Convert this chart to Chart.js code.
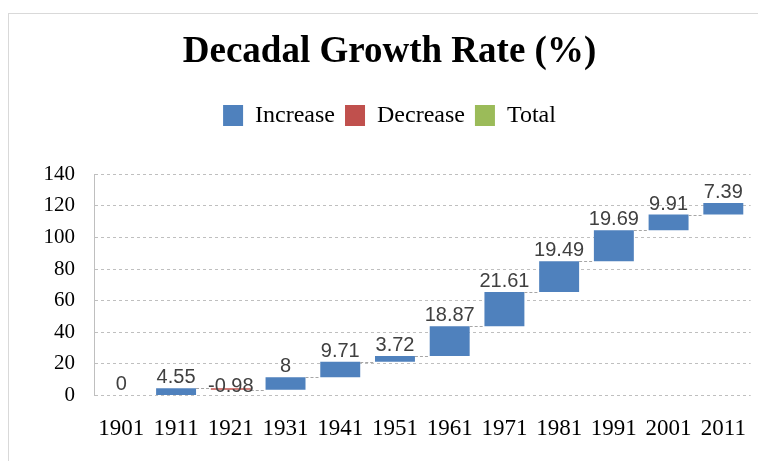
<!DOCTYPE html>
<html>
<head>
<meta charset="utf-8">
<script src="https://cdn.jsdelivr.net/npm/chart.js@4"></script>
<style>
  html, body { margin: 0; padding: 0; background: #fff; }
  #frame { position: absolute; left: 8px; top: 13px; width: 800px; height: 500px;
           border-left: 1px solid #d9d9d9; border-top: 1px solid #d9d9d9; }
  #wrap { position: absolute; left: 0; top: 0; width: 758px; height: 461px; }
</style>
</head>
<body>
<div id="frame"></div>
<div id="wrap"><canvas id="chart"></canvas></div>
<script>
// --- Data ---
const years = ['1901', '1911', '1921', '1931', '1941', '1951', '1961', '1971', '1981', '1991', '2001', '2011'];
const growth = [0, 4.55, -0.98, 8, 9.71, 3.72, 18.87, 21.61, 19.49, 19.69, 9.91, 7.39];
const yTicks = [0, 20, 40, 60, 80, 100, 120, 140];

// waterfall: each bar floats from the running total to the new total
const increaseBars = [];
const decreaseBars = [];
let running = 0;
growth.forEach((g, i) => {
    const start = running;
    running = +(running + g).toFixed(2);
    if (i === 0 || g >= 0) {
        increaseBars.push([start, running]);
        decreaseBars.push(null);
    } else {
        increaseBars.push(null);
        decreaseBars.push([running, start]);
    }
});

const serif = "'Liberation Serif', 'Times New Roman', serif";
const sans = "'Liberation Sans', Arial, sans-serif";

// extra room under the legend, like the original
const legendGap = {
    id: 'legendGap',
    beforeInit(chart) {
        const fit = chart.legend.fit;
        chart.legend.fit = function () {
            fit.call(this);
            this.height += 37;
        };
    }
};

// --- Connector lines + value labels ---
const waterfallLabels = {
    id: 'waterfallLabels',
    afterDatasetsDraw(chart) {
        const ctx = chart.ctx;
        const yScale = chart.scales.y;
        const metaInc = chart.getDatasetMeta(0);
        const metaDec = chart.getDatasetMeta(1);
        const barAt = i => (increaseBars[i] ? metaInc.data[i] : metaDec.data[i]);

        // thin dashed connectors between consecutive bars
        ctx.save();
        ctx.strokeStyle = '#a6a6a6';
        ctx.lineWidth = 1;
        ctx.setLineDash([3, 2]);
        let total = 0;
        for (let i = 1; i < years.length - 1; i++) {
            total = +(total + growth[i]).toFixed(2);
            const a = barAt(i), b = barAt(i + 1);
            const y = Math.round(yScale.getPixelForValue(total)) + 0.5;
            ctx.beginPath();
            ctx.moveTo(a.x + a.width / 2, y);
            ctx.lineTo(b.x - b.width / 2, y);
            ctx.stroke();
        }
        ctx.restore();

        // value labels
        ctx.save();
        ctx.font = '20px ' + sans;
        ctx.fillStyle = '#404040';
        ctx.textAlign = 'center';
        ctx.textBaseline = 'alphabetic';
        growth.forEach((g, i) => {
            const bar = barAt(i);
            const range = increaseBars[i] || decreaseBars[i];
            let y;
            if (g >= 0) {
                y = yScale.getPixelForValue(range[1]) - 5;
            } else {
                y = yScale.getPixelForValue(range[0]) + 2;
            }
            ctx.fillText(String(g), bar.x, y);
        });
        ctx.restore();
    }
};

const ctx = document.getElementById('chart').getContext('2d');
new Chart(ctx, {
    type: 'bar',
    data: {
        labels: years,
        datasets: [
            { label: 'Increase', data: increaseBars, backgroundColor: '#4F81BD', grouped: false },
            { label: 'Decrease', data: decreaseBars, backgroundColor: '#C0504D', grouped: false },
            { label: 'Total', data: years.map(() => null), backgroundColor: '#9BBB59', grouped: false }
        ]
    },
    options: {
        responsive: true,
        maintainAspectRatio: false,
        animation: false,
        categoryPercentage: 1,
        barPercentage: 0.73,
        layout: { padding: { left: 24, right: 3, top: 0, bottom: 6 } },
        plugins: {
            tooltip: { enabled: false },
            title: {
                display: true,
                text: 'Decadal Growth Rate (%)',
                color: '#000',
                font: { family: serif, size: 37, weight: 'bold' },
                padding: { top: 30, bottom: 19 }
            },
            legend: {
                position: 'top',
                labels: {
                    color: '#000',
                    font: { family: serif, size: 24 },
                    boxWidth: 20,
                    boxHeight: 21,
                    padding: 10
                }
            }
        },
        scales: {
            x: {
                grid: { display: false },
                border: { display: false },
                ticks: { color: '#000', font: { family: serif, size: 23 }, padding: 12, maxRotation: 0 }
            },
            y: {
                min: 0,
                max: 140,
                afterFit(scale) { scale.width = 70; },
                afterBuildTicks(scale) { scale.ticks = yTicks.map(v => ({ value: v })); },
                grid: { color: '#bfbfbf', drawTicks: false },
                border: { display: true, color: '#bfbfbf', dash: [3, 3] },
                ticks: { color: '#000', font: { family: serif, size: 21 }, padding: 19 }
            }
        }
    },
    plugins: [legendGap, waterfallLabels]
});
</script>
</body>
</html>
